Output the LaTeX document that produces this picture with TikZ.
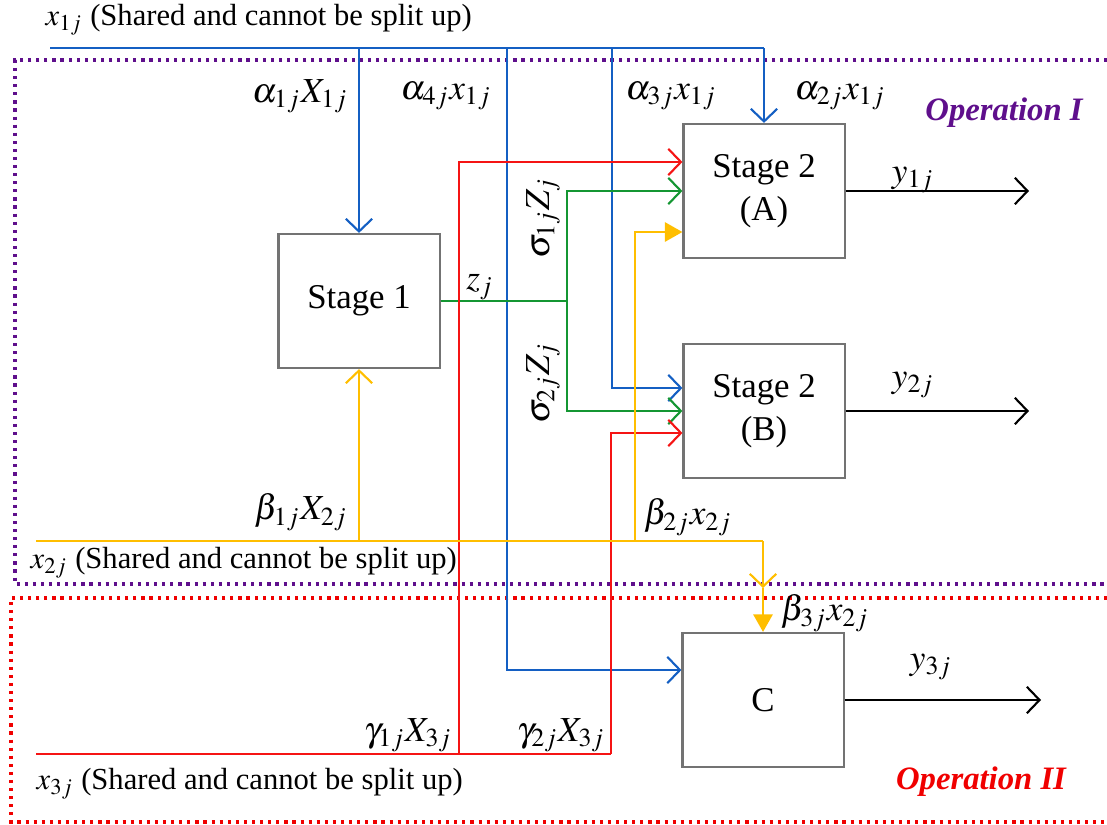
\documentclass[tikz,border=0pt]{standalone}
\usepackage{mathptmx}
\usepackage{fontspec}
\setmainfont{Liberation Serif}
\usetikzlibrary{arrows.meta}

\definecolor{lnblue}{RGB}{20,95,195}
\definecolor{lnred}{RGB}{245,20,20}
\definecolor{lngreen}{RGB}{20,150,50}
\definecolor{lnyellow}{RGB}{255,190,0}
\definecolor{oppurple}{RGB}{95,15,140}
\definecolor{opred}{RGB}{240,0,0}

\tikzset{
  stagebox/.style={draw=black!55, line width=0.6pt, minimum width=1.61cm, minimum height=1.34cm,
    inner sep=0pt, align=center, font=\fontsize{9.9}{12.2}\selectfont},
  flow/.style={line width=0.6pt},
  openarrow/.style={-{Straight Barb[length=3.6pt,width=7.5pt,line width=0.6pt]}},
  fillarrow/.style={-{Triangle[length=5pt,width=5.5pt]}},
  lbl/.style={inner sep=0pt, font=\fontsize{10}{12}\selectfont},
  shared/.style={inner sep=0pt, anchor=west, font=\fontsize{8.7}{10}\selectfont},
  optitle/.style={inner sep=0pt, font=\fontsize{9.3}{11}\selectfont\bfseries\itshape},
  opframe/.style={line width=0.9pt, dash pattern=on 0.9pt off 1.4pt},
}

\begin{document}
\begin{tikzpicture}[x=0.01cm,y=-0.01cm]
\useasboundingbox (0,0) rectangle (1107,824);

% operation frames
\draw[opframe, oppurple] (1107,60) -- (15,60) -- (15,584) -- (1107,584);
\draw[opframe, opred] (1107,598) -- (11,598) -- (11,822) -- (1107,822);

% stages
\node[stagebox] (s1) at (359,301) {Stage 1};
\node[stagebox] (sa) at (764,191) {Stage 2\\(A)};
\node[stagebox] (sb) at (764,411) {Stage 2\\(B)};
\node[stagebox] (sc) at (763,700) {C};

\coordinate (x1L) at (50,48);
\coordinate (x2L) at (36,541);
\coordinate (x3L) at (36,754);
\coordinate (ya) at (1029,191);
\coordinate (yb) at (1029,411);
\coordinate (yc) at (1041,700);

% x1 (blue)
\draw[flow, lnblue] (x1L) -- (sa.north |- x1L);
\draw[flow, lnblue, openarrow] (sa.north |- x1L) -- (sa.north);
\draw[flow, lnblue, openarrow] (s1.north |- x1L) -- (s1.north);
\draw[flow, lnblue, openarrow] (507,48) |- (sc.west |- 0,670);
\draw[flow, lnblue, openarrow] (612,48) |- (sb.west |- 0,388);

% z (green)
\draw[flow, lngreen] (s1.east) -- (567,301) coordinate (zj);
\draw[flow, lngreen, openarrow] (zj) |- (sa.west);
\draw[flow, lngreen, openarrow] (zj) |- (sb.west);

% x3 (red)
\draw[flow, lnred] (x3L) -- (611,754);
\draw[flow, lnred, openarrow] (459,754) |- (sa.west |- 0,162);
\draw[flow, lnred, openarrow] (611,754) |- (sb.west |- 0,433);

% x2 (yellow)
\draw[flow, lnyellow] (x2L) -- (sc.north |- x2L);
\draw[flow, lnyellow, openarrow] (s1.south |- x2L) -- (s1.south);
\draw[flow, lnyellow, fillarrow] (635,541) |- (sa.west |- 0,232);
\draw[flow, lnyellow, openarrow] (sc.north |- x2L) -- (sc.north |- 0,588);
\draw[flow, lnyellow, fillarrow] (sc.north |- 0,588) -- (sc.north);

% outputs
\draw[flow, openarrow] (sa.east) -- (ya);
\draw[flow, openarrow] (sb.east) -- (yb);
\draw[flow, openarrow] (sc.east) -- (yc);

% labels
\node[shared] (x1t) at (45,20) {$x_{1j}$ (Shared and cannot be split up)};
\node[shared] (x2t) at (30,563) {$x_{2j}$ (Shared and cannot be split up)};
\node[shared] (x3t) at (36,784) {$x_{3j}$ (Shared and cannot be split up)};
\node[lbl] (a1) at (300,96) {$\alpha_{1j}X_{1j}$};
\node[lbl] (a4) at (446,96) {$\alpha_{4j}x_{1j}$};
\node[lbl] (a3) at (671,96) {$\alpha_{3j}x_{1j}$};
\node[lbl] (a2) at (840,96) {$\alpha_{2j}x_{1j}$};
\node[lbl] (y1) at (913,180) {$y_{1j}$};
\node[lbl] (y2) at (913,385) {$y_{2j}$};
\node[lbl] (y3) at (931,667) {$y_{3j}$};
\node[lbl] (z) at (480,287) {$z_j$};
\node[lbl, rotate=90] (s1z) at (543,218) {$\sigma_{1j}Z_j$};
\node[lbl, rotate=90] (s2z) at (543,383) {$\sigma_{2j}Z_j$};
\node[lbl] (b1) at (301,512) {$\beta_{1j}X_{2j}$};
\node[lbl] (b2) at (688,517) {$\beta_{2j}x_{2j}$};
\node[lbl] (b3) at (825,613) {$\beta_{3j}x_{2j}$};
\node[lbl] (g1) at (408,735) {$\gamma_{1j}X_{3j}$};
\node[lbl] (g2) at (561,735) {$\gamma_{2j}X_{3j}$};
\node[optitle, text=oppurple] (op1) at (1004,113) {Operation I};
\node[optitle, text=opred] (op2) at (981,782) {Operation II};
\end{tikzpicture}
\end{document}
